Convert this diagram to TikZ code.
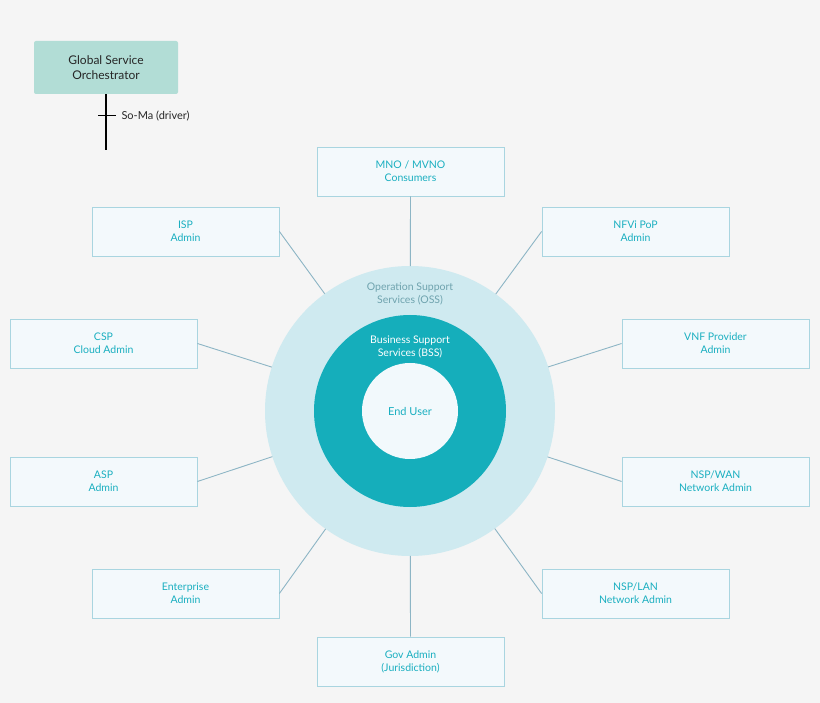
\documentclass[tikz,border=0pt]{standalone}
\usepackage{fontspec}
\setmainfont{Lato}
\usetikzlibrary{calc}
\definecolor{bg}{HTML}{F5F5F5}
\definecolor{boxfill}{HTML}{F3F9FC}
\definecolor{boxline}{HTML}{A9D5E0}
\definecolor{teal}{HTML}{1AAFC0}
\definecolor{oss}{HTML}{CFEAF0}
\definecolor{bss}{HTML}{15AEBB}
\definecolor{inner}{HTML}{F2F9FC}
\definecolor{osstext}{HTML}{6FA3AE}
\definecolor{gso}{HTML}{B2DDD6}
\definecolor{conn}{HTML}{8DB5C5}
\begin{document}
\begin{tikzpicture}[x=1pt,y=-1pt,
  role/.style={draw=boxline,fill=boxfill,line width=0.8pt,minimum width=187pt,minimum height=49pt,
    text=teal,align=center,font=\fontsize{10.5}{13}\selectfont,inner sep=0pt},
  conn/.style={draw=conn,line width=0.9pt}]
\useasboundingbox[fill=bg] (0,0) rectangle (820,703);
\coordinate (C) at (410,411);
\node[circle,fill=oss,minimum size=290pt,inner sep=0pt] (outer) at (C) {};
\node[circle,fill=bss,minimum size=192pt,inner sep=0pt] (mid) at (C) {};
\node[circle,fill=inner,minimum size=96pt,inner sep=0pt,text=teal,font=\fontsize{11}{13}\selectfont] (inn) at (C) {End User};
\node[text=osstext,align=center,font=\fontsize{10.5}{13}\selectfont] (osst) at (410,294) {Operation Support\\Services (OSS)};
\node[text=white,align=center,font=\fontsize{10.5}{13}\selectfont] (bsst) at (410,347) {Business Support\\Services (BSS)};

\node[role] (mno) at (410.5,171.5) {MNO / MVNO\\Consumers};
\node[role] (isp) at (185.5,231.5) {ISP\\Admin};
\node[role] (nfv) at (635.5,231.5) {NFVi PoP\\Admin};
\node[role] (csp) at (103.5,343.5) {CSP\\Cloud Admin};
\node[role] (vnf) at (715.5,343.5) {VNF Provider\\Admin};
\node[role] (asp) at (103.5,481.5) {ASP\\Admin};
\node[role] (wan) at (715.5,481.5) {NSP/WAN\\Network Admin};
\node[role] (ent) at (185.5,593.5) {Enterprise\\Admin};
\node[role] (lan) at (635.5,593.5) {NSP/LAN\\Network Admin};
\node[role] (gov) at (410.5,661.5) {Gov Admin\\(Jurisdiction)};

\foreach \n/\a in {mno/south,isp/east,nfv/west,csp/east,vnf/west,asp/east,wan/west,ent/east,lan/west,gov/north}
  \draw[conn] (\n.\a) -- ($(C)!145pt!(\n.\a)$);

\node[fill=gso,rounded corners=2pt,minimum width=144pt,minimum height=53pt,align=center,
  font=\fontsize{12}{15}\selectfont,text=black!85] (gsn) at (106,67.5) {Global Service\\Orchestrator};
\coordinate (drv) at (106,150);
\draw[black,line width=1.8pt] (gsn.south) -- (drv);
\coordinate (tk) at (98,116);
\draw[black,line width=1pt] (tk) -- ++(18,0);
\node[anchor=west,font=\fontsize{11}{13}\selectfont,text=black!85] (sm) at (118,116) {So-Ma (driver)};
\end{tikzpicture}
\end{document}
